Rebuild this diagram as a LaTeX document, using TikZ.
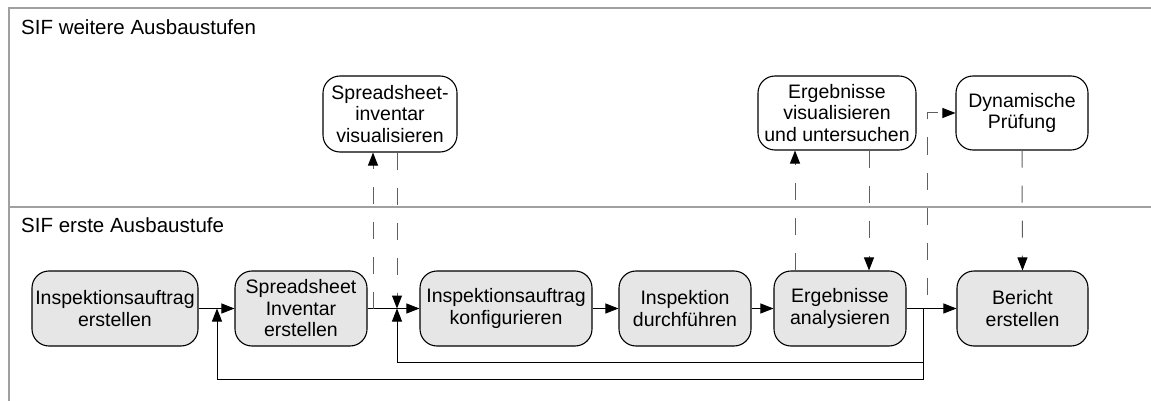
\documentclass[tikz,border=0pt]{standalone}
\usepackage{fontspec}
\setmainfont{Liberation Sans}
\usetikzlibrary{arrows.meta}
\definecolor{boxgray}{HTML}{E6E6E6}
\definecolor{lanegray}{HTML}{A0A0A0}
\definecolor{dashgray}{HTML}{606060}
\begin{document}
\begin{tikzpicture}[x=1pt,y=-1pt,
  proc/.style={draw=black, line width=1.1pt, fill=boxgray, rounded corners=17pt,
    minimum height=75pt, align=center, inner sep=0pt,
    font=\fontsize{19.5}{21.5}\selectfont},
  upper/.style={proc, fill=white},
  lane/.style={draw=lanegray, line width=1.4pt},
  title/.style={inner sep=0pt, font=\fontsize{20.5}{24}\selectfont},
  arr/.style={-{Triangle[length=13pt,width=10pt]}, line width=1pt, draw=black},
  dashc/.style={-{Triangle[length=13pt,width=10pt,color=black]}, line width=1pt,
    draw=dashgray, dash pattern=on 17pt off 18pt}
]
\useasboundingbox (0,0) rectangle (1151,401);
% lanes
\draw[lane] (1151,8) -- (9,8) -- (9,401);
\draw[lane] (9,207) -- (1151,207);
\node[title, anchor=base west] (t1) at (21,35) {SIF weitere Ausbaustufen};
\node[title, anchor=base west] (t2) at (21,232.5) {SIF erste Ausbaustufe};
% lower boxes
\node[proc, minimum width=166pt] (B1) at (115,308.5) {Inspektionsauftrag\\erstellen};
\node[proc, minimum width=132pt] (B2) at (301,308.5) {Spreadsheet\\Inventar\\erstellen};
\node[proc, minimum width=172pt] (B3) at (506,308.5) {Inspektionsauftrag\\konfigurieren};
\node[proc, minimum width=132pt] (B4) at (685,308.5) {Inspektion\\durchführen};
\node[proc, minimum width=132pt] (B5) at (840,308.5) {Ergebnisse\\analysieren};
\node[proc, minimum width=131pt] (B6) at (1022.5,308.5) {Bericht\\erstellen};
% upper boxes
\node[upper, minimum width=134pt, minimum height=76pt] (U1) at (390,114) {Spreadsheet-\\inventar\\visualisieren};
\node[upper, minimum width=158pt, minimum height=74pt] (U2) at (837,113) {Ergebnisse\\visualisieren\\und untersuchen};
\node[upper, minimum width=132pt, minimum height=74pt] (U3) at (1022,113) {Dynamische\\Prüfung};
% helper coordinates
\coordinate (j) at (923,308.5);
\coordinate (f1) at (217,308.5);
\coordinate (f2) at (397,308.5);
\coordinate (d1) at (373,308.5);
\coordinate (k) at (927,308.5);
\coordinate (x795) at (795,0);
\coordinate (x869) at (869,0);
% main flow
\draw[arr] (B1.east) -- (B2.west);
\draw[arr] (B2.east) -- (B3.west);
\draw[arr] (B3.east) -- (B4.west);
\draw[arr] (B4.east) -- (B5.west);
\draw[arr] (B5.east) -- (B6.west);
% feedback loops
\draw[arr] (j) -- ++(0,70.5) -| (f1);
\draw[arr] (j) -- ++(0,53.5) -| (f2);
% dashed connectors
\draw[dashc] (d1) -- (d1 |- U1.south);
\draw[dashc] (U1.south -| f2) -- (f2);
\draw[dashc] (B5.north -| x795) -- (U2.south -| x795);
\draw[dashc] (U2.south -| x869) -- (B5.north -| x869);
\draw[dashc] (U3.south) -- (B6.north);
\draw[dashc, dash phase=21pt] (k) |- (U3.west);
\end{tikzpicture}
\end{document}
